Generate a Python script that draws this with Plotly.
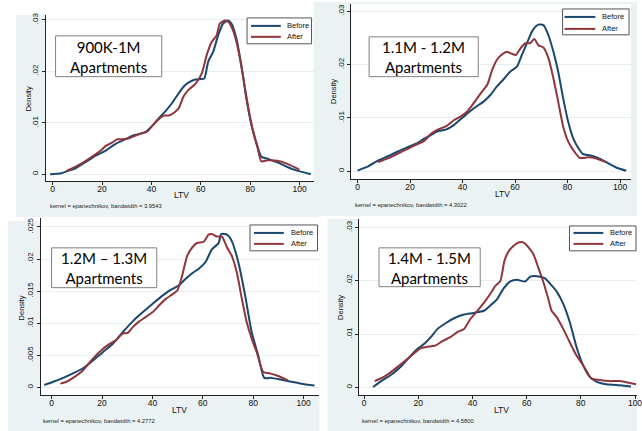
import plotly.graph_objects as go

W, H = 642, 431

# ---- kernel density estimates of LTV, by price band ----
ltv_900k_before = [-1, 3.5, 6, 9.5, 13.5, 17.5, 21.5, 25.5, 29.6, 32.3, 35, 37.6, 40.3, 43, 45.6, 48.3, 51, 53, 55, 57.7,
                   59.7, 61.4, 63, 65, 67, 69, 71, 72.4, 74.4, 76.4, 78.4, 80.5, 82.5, 84.5, 87, 91, 95, 99, 104.5]
dens_900k_before = [0, 0.0002, 0.0006, 0.0012, 0.0024, 0.0036, 0.0046, 0.0059, 0.0068, 0.0075, 0.0078, 0.0082, 0.0094,
                    0.0109, 0.0122, 0.0138, 0.0157, 0.0170, 0.0178, 0.0184, 0.0185, 0.0186, 0.0219, 0.0238, 0.0270,
                    0.0293, 0.0299, 0.0293, 0.0264, 0.0212, 0.0148, 0.0096, 0.0061, 0.0034, 0.0030, 0.0023, 0.0014,
                    0.0007, 0.0]
ltv_900k_after = [5.5, 9.5, 13.5, 17.5, 19.5, 21.5, 24.2, 26.2, 28.2, 31, 33.6, 36.3, 38.3, 40.3, 43, 45, 47, 49, 51, 53,
                  55, 57.7, 60.4, 62.4, 64.4, 66.4, 67.7, 69.7, 71, 73, 75, 77, 79, 81, 83, 84.5, 87, 91, 95, 99.9]
dens_900k_after = [0.0006, 0.0015, 0.0026, 0.0039, 0.0046, 0.0055, 0.0062, 0.0068, 0.0068, 0.0070, 0.0075, 0.0080,
                   0.0083, 0.0094, 0.0107, 0.0114, 0.0114, 0.0119, 0.0128, 0.0151, 0.0164, 0.0175, 0.0196, 0.0232,
                   0.0257, 0.0270, 0.0293, 0.0299, 0.0297, 0.0280, 0.0245, 0.0193, 0.0135, 0.0086, 0.0051, 0.0025,
                   0.0027, 0.0026, 0.0020, 0.0009]

ltv_11m_before = [0, 4, 7.8, 11.6, 15.4, 19.1, 22.9, 25.4, 28, 30.5, 33.6, 36.8, 40.6, 44.3, 48.1, 50.6, 53.1, 55.7,
                  58.2, 60.7, 62.6, 64.5, 66.8, 68.9, 70.8, 72.7, 74.6, 76.4, 78.3, 80.2, 82.1, 84, 85.9, 88.4, 91.6,
                  94.7, 98.5, 102.3]
dens_11m_before = [0.0001, 0.0009, 0.002, 0.0028, 0.0037, 0.0045, 0.0053, 0.0061, 0.0068, 0.0075, 0.0078, 0.0087,
                   0.0103, 0.0118, 0.0131, 0.0143, 0.0159, 0.0173, 0.0187, 0.0196, 0.0218, 0.0240, 0.0265, 0.0275,
                   0.0274, 0.0255, 0.0224, 0.0187, 0.0137, 0.0093, 0.0062, 0.0044, 0.0032, 0.003, 0.0025, 0.0017,
                   0.0007, 0.0001]
ltv_11m_after = [7.8, 11.6, 15.4, 19.1, 22.9, 25.4, 28, 30.5, 33.6, 36.8, 39.3, 41.8, 44.3, 46.9, 49.4, 51.3, 53.1, 55,
                 56.9, 58.4, 60.3, 62, 63.9, 65.7, 67.3, 68.9, 70.8, 72.7, 74.6, 76.4, 78.3, 80.2, 82.1, 84.6, 87.8,
                 90.9, 94.7]
dens_11m_after = [0.0017, 0.0024, 0.0033, 0.0042, 0.0051, 0.0057, 0.0070, 0.0078, 0.0084, 0.0096, 0.0103, 0.0112,
                  0.0128, 0.0146, 0.0162, 0.019, 0.0209, 0.0219, 0.0224, 0.0221, 0.0218, 0.023, 0.024, 0.024, 0.0248,
                  0.0236, 0.0232, 0.0212, 0.0174, 0.0131, 0.0084, 0.0056, 0.0040, 0.0025, 0.0026, 0.0024, 0.0017]

ltv_12m_before = [-2.9, 0.7, 4.6, 8.5, 12.5, 16.4, 20.3, 24.3, 28.2, 32.2, 36.1, 40, 44, 47.2, 50.5, 53.1, 55.8, 58.4,
                  61, 63.6, 66.3, 67.3, 69.6, 71.5, 74.1, 76.8, 79.4, 82, 84.4, 87.3, 91.2, 95.1, 99.1, 104.3]
dens_12m_before = [0.0004, 0.0009, 0.0015, 0.0022, 0.003, 0.0042, 0.0055, 0.0068, 0.0086, 0.0103, 0.0117, 0.013,
                   0.0143, 0.0152, 0.0159, 0.0169, 0.0178, 0.0185, 0.0195, 0.0215, 0.0225, 0.0239, 0.0238, 0.0228,
                   0.0195, 0.0143, 0.0086, 0.005, 0.0015, 0.0015, 0.0012, 0.0009, 0.0006, 0.0003]
ltv_12m_after = [3.5, 5.9, 8.5, 12.5, 16.4, 20.3, 23, 25.6, 28.2, 30.2, 32.2, 34.8, 37.4, 40, 42.7, 45.3, 47.9, 49.9,
                 51.8, 53.8, 55.8, 57.7, 60.4, 62.3, 63.6, 65.6, 67.6, 69.6, 71.5, 73.5, 75.5, 77.4, 79.4, 81.4, 84,
                 86.6, 89.9, 93.8]
dens_12m_after = [0.0006, 0.0009, 0.0015, 0.0027, 0.0045, 0.006, 0.0068, 0.0074, 0.0084, 0.0085, 0.0094, 0.0103,
                  0.011, 0.0117, 0.0128, 0.0138, 0.0145, 0.0151, 0.0174, 0.0205, 0.0218, 0.0225, 0.0227, 0.0238,
                  0.0239, 0.0235, 0.0235, 0.0218, 0.0205, 0.0179, 0.0138, 0.0102, 0.0076, 0.0055, 0.0024, 0.0022,
                  0.0018, 0.0011]

ltv_14m_before = [3.3, 6.3, 10, 13.7, 17.3, 19.8, 22.2, 24.7, 27.1, 30.2, 33.2, 36.9, 40.5, 44.2, 46.6, 49.1, 51.5, 54,
                  56.4, 59.5, 61.3, 63.7, 66.8, 68.6, 71.1, 73.5, 75.9, 78.4, 80.8, 83.3, 85.7, 89.4, 94.3, 98.5]
dens_14m_before = [0.0001, 0.0012, 0.0024, 0.004, 0.006, 0.0073, 0.0082, 0.0095, 0.011, 0.0121, 0.013, 0.0137, 0.014,
                   0.0144, 0.0154, 0.0166, 0.0186, 0.0199, 0.0202, 0.0199, 0.0208, 0.0209, 0.0205, 0.0195, 0.018,
                   0.0157, 0.0123, 0.0076, 0.0042, 0.002, 0.0011, 0.0006, 0.0004, 0.0002]
ltv_14m_after = [3.9, 7.6, 11.2, 14.9, 17.9, 21, 24, 26.5, 28.9, 32, 34.4, 36.9, 39.3, 41.8, 44.2, 46.6, 48.5, 50.3,
                 51.8, 53.4, 55.2, 57, 58.9, 60.7, 62.5, 64.3, 66.2, 68, 69.2, 71.1, 73.5, 75.9, 78.4, 80.8, 83.9,
                 86.9, 90.6, 94.3, 100.4]
dens_14m_after = [0.0012, 0.0021, 0.0034, 0.0049, 0.0062, 0.0074, 0.0077, 0.0079, 0.0087, 0.0095, 0.0104, 0.011,
                  0.0129, 0.0144, 0.0159, 0.0176, 0.0191, 0.02, 0.0238, 0.0256, 0.0266, 0.0272, 0.0272, 0.0263, 0.025,
                  0.0225, 0.0197, 0.0166, 0.0144, 0.0132, 0.011, 0.0085, 0.006, 0.0042, 0.0017, 0.0014, 0.0012,
                  0.0012, 0.0006]

x_ticks = [0, 20, 40, 60, 80, 100]
y_ticks_03 = [0, 0.01, 0.02, 0.03]
y_labels_03 = ["0", ".01", ".02", ".03"]
y_ticks_025 = [0, 0.005, 0.01, 0.015, 0.02, 0.025]
y_labels_025 = ["0", ".005", ".01", ".015", ".02", ".025"]

band_titles = ["900K-1M<br>Apartments", "1.1M - 1.2M<br>Apartments",
               "1.2M \u2013 1.3M<br>Apartments", "1.4M - 1.5M<br>Apartments"]
bandwidths = ["3.9543", "4.3022", "4.2772", "4.5800"]
series_names = ["Before", "After"]

NAVY = "#1a476f"
MAROON = "#90353b"
REGION = "#eaf2f3"
FONT = "Liberation Sans"

# ---- panel geometry in page pixels ----
panels = [
    dict(data=[(ltv_900k_before, dens_900k_before), (ltv_900k_after, dens_900k_after)],
         bg=(16, 13, 321, 216), plot=(46, 13, 316, 180), x0=53, x100=302, y0=173, ytop=(0.03, 18),
         yt=(y_ticks_03, y_labels_03), legend=(249, 16, 314, 42, 24, 35, 253, 283, 287),
         tbox=(56, 34, 163, 75), foot=(48, 205), ltv=(183, 194), dens=(29, 97)),
    dict(data=[(ltv_11m_before, dens_11m_before), (ltv_11m_after, dens_11m_after)],
         bg=(316, 0, 642, 215), plot=(354, 2, 636, 178), x0=360.3, x100=625, y0=170, ytop=(0.03, 9.3),
         yt=(y_ticks_03, y_labels_03), legend=(567, 7, 634, 33, 15, 27, 569, 600, 605),
         tbox=(372, 35, 482, 75), foot=(356, 204), ltv=(506, 193), dens=(336, 90)),
    dict(data=[(ltv_12m_before, dens_12m_before), (ltv_12m_after, dens_12m_after)],
         bg=(8, 220, 322, 431), plot=(41, 217, 322, 395), x0=52, x100=306, y0=387.3, ytop=(0.025, 226),
         yt=(y_ticks_025, y_labels_025), legend=(252, 224, 320, 250, 232, 243, 256, 286, 291),
         tbox=(52, 247, 158, 287), foot=(41, 421), ltv=(181, 410), dens=(22, 307)),
    dict(data=[(ltv_14m_before, dens_14m_before), (ltv_14m_after, dens_14m_after)],
         bg=(330, 218, 642, 431), plot=(362, 218, 642, 395), x0=367, x100=640, y0=387.3, ytop=(0.03, 226.7),
         yt=(y_ticks_03, y_labels_03), legend=(574, 225, 641, 250, 232, 243, 578, 608, 613),
         tbox=(382, 247, 484, 286), foot=(363, 421), ltv=(505, 410), dens=(343, 307)),
]


def fx(x):
    return x / W


def fy(y):
    return 1 - y / H


fig = go.Figure()
shapes = []
annotations = []
layout_axes = {}

# graph regions first, then white plot regions on top of them
for p in panels:
    x0, y0, x1, y1 = p["bg"]
    shapes.append(dict(type="rect", xref="paper", yref="paper", x0=fx(x0), x1=fx(x1), y0=fy(y1), y1=fy(y0),
                       fillcolor=REGION, line=dict(width=0), layer="below"))
for p in panels:
    x0, y0, x1, y1 = p["plot"]
    shapes.append(dict(type="rect", xref="paper", yref="paper", x0=fx(x0), x1=fx(x1), y0=fy(y1), y1=fy(y0),
                       fillcolor="white", line=dict(width=0), layer="below"))

for i, p in enumerate(panels, start=1):
    sfx = "" if i == 1 else str(i)
    px0, py0, px1, py1 = p["plot"]
    xs = (p["x100"] - p["x0"]) / 100.0
    xr = [(px0 - p["x0"]) / xs, (px1 - p["x0"]) / xs]
    yv, ypx = p["ytop"]
    ys = (p["y0"] - ypx) / yv
    yr = [-(py1 - p["y0"]) / ys, (p["y0"] - py0) / ys]

    for (xv, dv), name, col in zip(p["data"], series_names, [NAVY, MAROON]):
        fig.add_trace(go.Scatter(x=xv, y=dv, mode="lines", name=name, showlegend=False,
                                 line=dict(color=col, width=2, shape="spline", smoothing=0.6),
                                 xaxis="x" + sfx, yaxis="y" + sfx))

    layout_axes["xaxis" + sfx] = dict(
        domain=[fx(px0), fx(px1)], range=xr, anchor="y" + sfx,
        tickvals=x_ticks, ticks="outside", ticklen=3, tickcolor="#222", tickwidth=1,
        showline=True, linecolor="#222", linewidth=1, showgrid=False, zeroline=False,
        ticklabeloverflow="allow", ticklabelstandoff=-3,
        tickfont=dict(family=FONT, size=8.5, color="#111"), fixedrange=True)
    tv, tt = p["yt"]
    layout_axes["yaxis" + sfx] = dict(
        domain=[fy(py1), fy(py0)], range=yr, anchor="x" + sfx,
        tickvals=tv, ticktext=tt, tickangle=-90, ticks="outside", ticklen=3, tickcolor="#222", tickwidth=1,
        showline=True, linecolor="#222", linewidth=1, showgrid=True, gridcolor="#e6eef0", gridwidth=1,
        zeroline=False, ticklabeloverflow="allow",
        tickfont=dict(family=FONT, size=8, color="#111"), fixedrange=True)

    # legend box
    lx0, ly0, lx1, ly1, yb, ya, sx0, sx1, tx = p["legend"]
    shapes.append(dict(type="rect", xref="paper", yref="paper", x0=fx(lx0), x1=fx(lx1), y0=fy(ly1), y1=fy(ly0),
                       fillcolor="white", line=dict(color="#555", width=1), layer="above"))
    for yy, name, col in [(yb, series_names[0], NAVY), (ya, series_names[1], MAROON)]:
        shapes.append(dict(type="line", xref="paper", yref="paper", x0=fx(sx0), x1=fx(sx1), y0=fy(yy), y1=fy(yy),
                           line=dict(color=col, width=2), layer="above"))
        annotations.append(dict(xref="paper", yref="paper", x=fx(tx), y=fy(yy), text=name, showarrow=False,
                                xanchor="left", yanchor="middle", font=dict(family=FONT, size=7.5, color="#111")))

    # price band label box
    bx0, by0, bx1, by1 = p["tbox"]
    shapes.append(dict(type="rect", xref="paper", yref="paper", x0=fx(bx0), x1=fx(bx1), y0=fy(by1), y1=fy(by0),
                       fillcolor="white", line=dict(color="#808080", width=1), layer="above"))
    annotations.append(dict(xref="paper", yref="paper", x=fx((bx0 + bx1) / 2), y=fy((by0 + by1) / 2 + 0.5),
                            text=band_titles[i - 1], showarrow=False, xanchor="center", yanchor="middle",
                            align="center", font=dict(family="Lato", size=15, color="#000")))

    # axis titles and kernel note
    annotations.append(dict(xref="paper", yref="paper", x=fx(p["ltv"][0]), y=fy(p["ltv"][1]), text="LTV",
                            showarrow=False, xanchor="center", yanchor="middle",
                            font=dict(family=FONT, size=8.5, color="#111")))
    annotations.append(dict(xref="paper", yref="paper", x=fx(p["dens"][0]), y=fy(p["dens"][1]), text="Density",
                            showarrow=False, xanchor="center", yanchor="middle", textangle=-90,
                            font=dict(family=FONT, size=7.5, color="#111")))
    annotations.append(dict(xref="paper", yref="paper", x=fx(p["foot"][0]), y=fy(p["foot"][1]),
                            text="kernel = epanechnikov, bandwidth = " + bandwidths[i - 1],
                            showarrow=False, xanchor="left", yanchor="middle",
                            font=dict(family=FONT, size=5.8, color="#222")))

fig.update_layout(
    width=W, height=H, margin=dict(l=0, r=0, t=0, b=0),
    paper_bgcolor="white", plot_bgcolor="rgba(0,0,0,0)",
    showlegend=False, shapes=shapes, annotations=annotations, **layout_axes)

fig.write_html("out.html", config={"displayModeBar": False})
